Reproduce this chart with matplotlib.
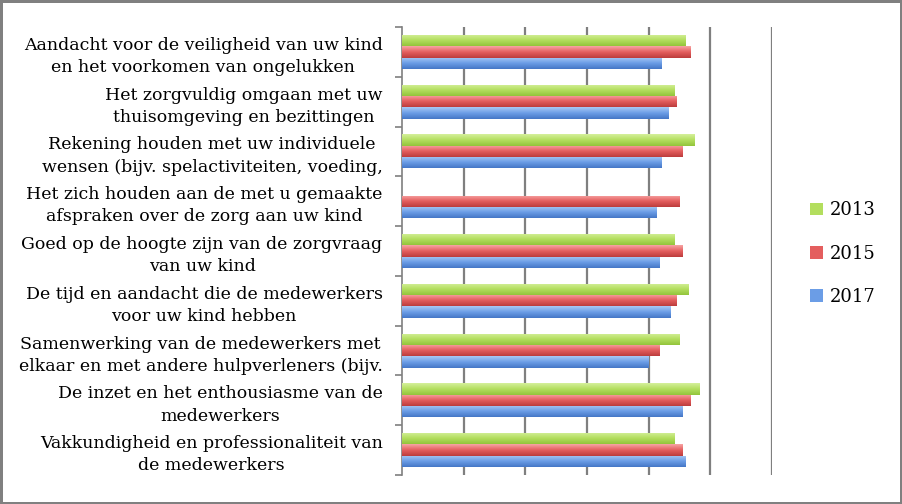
import numpy as np
import matplotlib.pyplot as plt
from matplotlib.colors import LinearSegmentedColormap

# ========== data ==========
categories = [
    "Aandacht voor de veiligheid van uw kind\nen het voorkomen van ongelukken",
    "Het zorgvuldig omgaan met uw\nthuisomgeving en bezittingen",
    "Rekening houden met uw individuele\nwensen (bijv. spelactiviteiten, voeding,",
    "Het zich houden aan de met u gemaakte\nafspraken over de zorg aan uw kind",
    "Goed op de hoogte zijn van de zorgvraag\nvan uw kind",
    "De tijd en aandacht die de medewerkers\nvoor uw kind hebben",
    "Samenwerking van de medewerkers met\nelkaar en met andere hulpverleners (bijv.",
    "De inzet en het enthousiasme van de\nmedewerkers",
    "Vakkundigheid en professionaliteit van\nde medewerkers",
]
years = ["2013", "2015", "2017"]
scores_2013 = [9.2, 8.85, 9.5, 0.0, 8.85, 9.3, 9.0, 9.65, 8.85]
scores_2015 = [9.35, 8.9, 9.1, 9.0, 9.1, 8.9, 8.35, 9.35, 9.1]
scores_2017 = [8.4, 8.65, 8.4, 8.25, 8.35, 8.7, 8.0, 9.1, 9.2]

# gradient colours (top, middle, bottom) per serie
grad_colors = {
    "2013": ["#d4f09a", "#b3de5e", "#93c53c"],
    "2015": ["#f7a3a3", "#e45e5e", "#bd3d3d"],
    "2017": ["#a8c8f4", "#6b9de6", "#4577c7"],
}

plt.rcParams['font.family'] = ['DejaVu Serif']

fig = plt.figure(figsize=(9.02, 5.04), dpi=100, linewidth=2.5, edgecolor='#808080')
ax = fig.add_axes([0.4457, 0.0575, 0.4102, 0.8890])

y = np.arange(len(categories))
h = 0.227
series = [scores_2013, scores_2015, scores_2017]

for i, (yr, vals) in enumerate(zip(years, series)):
    bars = ax.barh(y + (i - 1) * h, vals, height=h, color=grad_colors[yr][1],
                   label=yr, zorder=3)
    cmap = LinearSegmentedColormap.from_list(yr, grad_colors[yr])
    grad = np.linspace(0, 1, 32).reshape(-1, 1)
    for b in bars:
        if b.get_width() <= 0:
            continue
        x0, y0 = b.get_x(), b.get_y()
        im = ax.imshow(grad, cmap=cmap, aspect='auto', zorder=4,
                       extent=(x0, x0 + b.get_width(), y0 + b.get_height(), y0))
        im.set_clip_path(b)

ax.set_xlim(0, 12)
ax.set_ylim(len(categories) - 0.5, -0.5)
ax.set_xticks(np.arange(2, 13, 2))
ax.tick_params(axis='x', length=0, labelbottom=False)
ax.grid(axis='x', color='#7f7f7f', linewidth=1.6, zorder=0)

ax.set_yticks(y)
ax.set_yticklabels(categories, fontsize=12.5, multialignment='center', linespacing=1.4)
ax.tick_params(axis='y', which='major', length=0, pad=14)
ax.set_yticks(np.arange(-0.5, len(categories), 1), minor=True)
ax.tick_params(axis='y', which='minor', length=5, width=1.2, color='#7f7f7f', direction='out')

for s in ['top', 'right', 'bottom']:
    ax.spines[s].set_visible(False)
ax.spines['left'].set_color('#7f7f7f')
ax.spines['left'].set_linewidth(1.2)

handles, labels = ax.get_legend_handles_labels()
fig.legend(handles, labels, loc='center left', bbox_to_anchor=(0.88, 0.497),
           frameon=False, fontsize=13, handlelength=0.7, handleheight=0.7,
           handletextpad=0.4, labelspacing=1.4)

plt.savefig('out.png', dpi=100)
